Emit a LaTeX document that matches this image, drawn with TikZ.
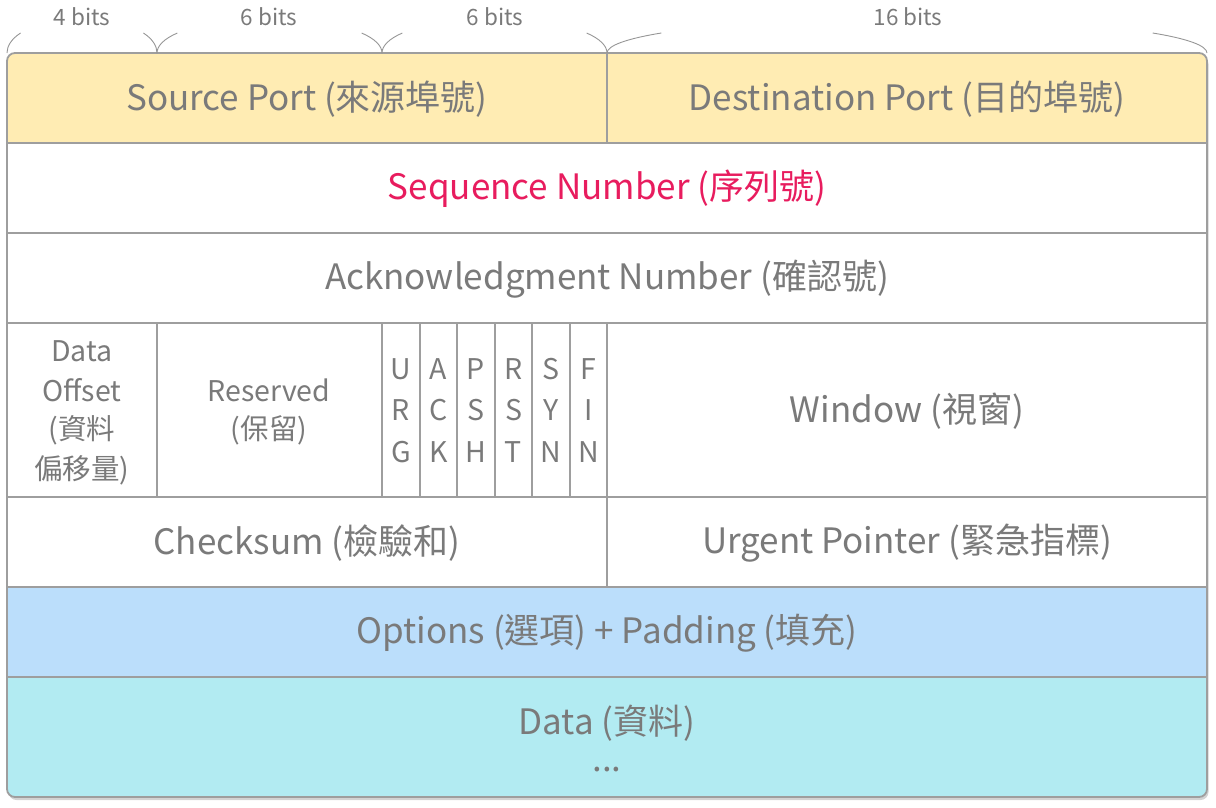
\documentclass[tikz,border=0pt]{standalone}
\usepackage{fontspec}
\setmainfont{Noto Sans CJK TC}
\usetikzlibrary{shadows}
\definecolor{txt}{RGB}{122,122,122}
\definecolor{ln}{RGB}{158,158,158}
\definecolor{brc}{RGB}{150,150,150}
\definecolor{yel}{RGB}{255,236,179}
\definecolor{blu}{RGB}{187,222,251}
\definecolor{cya}{RGB}{178,235,242}
\definecolor{seq}{RGB}{232,28,94}
\begin{document}
\begin{tikzpicture}[x=1pt,y=-1pt,
  lab/.style={text=txt,font=\fontsize{35}{40}\selectfont,inner sep=0pt},
  small/.style={text=txt,font=\fontsize{28.5}{32}\selectfont,inner sep=0pt},
  bits/.style={text=txt,font=\fontsize{22.5}{26}\selectfont,inner sep=0pt},
  grid/.style={draw=ln,line width=1.8pt},
  thingrid/.style={draw=ln,line width=1.3pt},
  bracearm/.style={draw=brc,line width=0.9pt}]
\useasboundingbox (0,0) rectangle (1216,807);
% box with shadow
\path[fill=white,rounded corners=8pt,drop shadow={shadow xshift=1.5pt,shadow yshift=-3pt,opacity=0.35}] (7,53) rectangle (1207,797);
\begin{scope}
  \clip[rounded corners=8pt] (7,53) rectangle (1207,797);
  \fill[yel] (7,53) rectangle (1207,143);
  \fill[blu] (7,587) rectangle (1207,677);
  \fill[cya] (7,677) rectangle (1207,797);
\end{scope}
% grid lines
\foreach \yy in {143,233,323,497,587,677}
  \draw[grid] (7,\yy) -- (1207,\yy);
\draw[grid] (607,53) -- (607,143);
\draw[grid] (607,323) -- (607,587);
\draw[grid] (157,323) -- (157,497);
\draw[grid] (382,323) -- (382,497);
\foreach \xx in {420,457,495,532,570}
  \draw[thingrid] (\xx,323) -- (\xx,497);
\draw[ln,line width=1.8pt,rounded corners=8pt] (7,53) rectangle (1207,797);
% braces
\foreach \a/\b in {7/157,157/382,382/607,607/1207} {
  \pgfmathsetmacro\w{\b-\a}
  \draw[bracearm] (\a,53) .. controls (\a,45.8) and ({\a+0.0315*\w},38.8) .. ({\a+0.0905*\w},33);
  \draw[bracearm] (\b,53) .. controls (\b,45.8) and ({\b-0.0315*\w},38.8) .. ({\b-0.0905*\w},33);
}
\node[bits] (b4) at (82,17) {4 bits};
\node[bits] (b6a) at (269,17) {6 bits};
\node[bits] (b6b) at (495,17) {6 bits};
\node[bits] (b16) at (908,17) {16 bits};
% labels
\node[lab] (src) at (307,99) {Source Port (來源埠號)};
\node[lab] (dst) at (907,99) {Destination Port (目的埠號)};
\node[lab,text=seq] (seqn) at (607,189) {Sequence Number (序列號)};
\node[lab] (ack) at (607,279) {Acknowledgment Number (確認號)};
\node[small] (do1) at (82,351) {Data};
\node[small] (do2) at (82,390) {Offset};
\node[small] (do3) at (82,430) {(資料};
\node[small] (do4) at (82,470) {偏移量)};
\node[small] (rs1) at (269,390) {Reserved};
\node[small] (rs2) at (269,430) {(保留)};
\foreach \n/\xx/\p/\q/\r in {u/401/U/R/G,a/438.5/A/C/K,p/476/P/S/H,r/513.5/R/S/T,s/551/S/Y/N,f/588.5/F/I/N} {
  \node[small] (\n1) at (\xx,369) {\p};
  \node[small] (\n2) at (\xx,410) {\q};
  \node[small] (\n3) at (\xx,452) {\r};
}
\node[lab] (win) at (907,411) {Window (視窗)};
\node[lab] (chk) at (307,543) {Checksum (檢驗和)};
\node[lab] (urg) at (907,543) {Urgent Pointer (緊急指標)};
\node[lab] (opt) at (607,633) {Options (選項) + Padding (填充)};
\node[lab] (dat) at (607,723) {Data (資料)};
\node[lab] (dots) at (607,770) {...};
\end{tikzpicture}
\end{document}
